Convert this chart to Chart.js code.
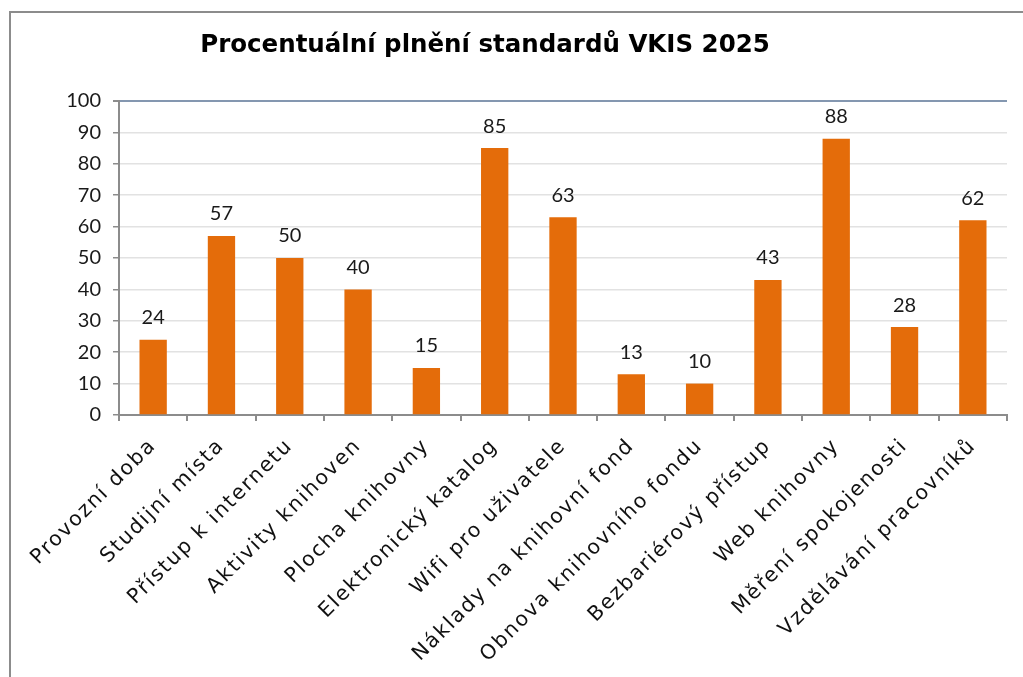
<!DOCTYPE html>
<html>
<head>
<meta charset="utf-8">
<script src="https://cdn.jsdelivr.net/npm/chart.js@4"></script>
<style>
  html, body { margin: 0; padding: 0; background: #fff; }
  #wrap { position: relative; width: 1023px; height: 677px; overflow: hidden; }
  #frame { position: absolute; left: 9px; top: 11px; width: 1100px; height: 800px; border: 2px solid #8c8c8c; box-sizing: border-box; }
  canvas { position: absolute; left: 0; top: 0; }
</style>
</head>
<body>
<div id="wrap">
  <div id="frame"></div>
  <canvas id="myChart" width="1023" height="677"></canvas>
</div>
<script>
(() => {
    'use strict'

    const chartTitle = 'Procentuální plnění standardů VKIS 2025'
    const categories = [
        'Provozní doba', 'Studijní místa', 'Přístup k internetu', 'Aktivity knihoven',
        'Plocha knihovny', 'Elektronický katalog', 'Wifi pro uživatele', 'Náklady na knihovní fond',
        'Obnova knihovního fondu', 'Bezbariérový přístup', 'Web knihovny', 'Měření spokojenosti',
        'Vzdělávání pracovníků'
    ]
    const values = [24, 57, 50, 40, 15, 85, 63, 13, 10, 43, 88, 28, 62]
    const yTicks = [0, 10, 20, 30, 40, 50, 60, 70, 80, 90, 100]

    const font = 'Lato'

    // title + value labels drawn on the canvas
    const labelsPlugin = {
        id: 'labels',
        afterDatasetsDraw(chart) {
            const c = chart.ctx
            const meta = chart.getDatasetMeta(0)
            c.save()
            c.fillStyle = '#1a1a1a'
            c.font = '20px ' + font
            c.textAlign = 'center'
            c.textBaseline = 'middle'
            meta.data.forEach((bar, i) => {
                c.fillText(String(values[i]), bar.x, bar.y - 22)
            })
            c.font = 'bold 24.5px "DejaVu Sans"'
            c.fillStyle = '#000'
            c.fillText(chartTitle, 485, 46)
            c.restore()
        }
    }

    const ctx = document.getElementById('myChart')
    new Chart(ctx, {
        type: 'bar',
        data: {
            labels: categories,
            datasets: [{
                data: values,
                backgroundColor: '#E46C0A',
                barPercentage: 0.8,
                categoryPercentage: 0.5
            }]
        },
        options: {
            responsive: false,
            animation: false,
            layout: { padding: { top: 101, right: 16, left: 0, bottom: 0 } },
            plugins: {
                legend: { display: false },
                tooltip: { enabled: false },
                title: { display: false }
            },
            scales: {
                x: {
                    afterFit(scale) {
                        scale.height = 262
                        // wider, spaced-out category labels like the original font
                        if (!scale._spaced) {
                            const orig = scale.drawLabels
                            scale.drawLabels = function (area) {
                                this.ctx.letterSpacing = '1.8px'
                                orig.call(this, area)
                                this.ctx.letterSpacing = '0px'
                            }
                            scale._spaced = true
                        }
                    },
                    border: { color: '#8c8c8c', width: 2 },
                    grid: { drawOnChartArea: false, color: '#8c8c8c', lineWidth: 2, tickLength: 6 },
                    ticks: {
                        maxRotation: 45, minRotation: 45,
                        color: '#111',
                        font: { family: 'DejaVu Sans', size: 20.5 },
                        padding: 13
                    }
                },
                y: {
                    min: 0, max: 100,
                    afterFit(scale) { scale.width = 119 },
                    afterBuildTicks(scale) { scale.ticks = yTicks.map(v => ({ value: v })) },
                    border: { color: '#8c8c8c', width: 2 },
                    grid: {
                        color: c => c.tick && c.tick.value === 100 ? '#8497b0' : '#e2e2e2',
                        lineWidth: c => c.tick && c.tick.value === 100 ? 2 : 1.5,
                        tickColor: '#8c8c8c',
                        tickLength: 6
                    },
                    ticks: {
                        color: '#1a1a1a',
                        font: { family: font, size: 20 },
                        padding: 12
                    }
                }
            }
        },
        plugins: [labelsPlugin]
    })
})()
</script>
</body>
</html>
